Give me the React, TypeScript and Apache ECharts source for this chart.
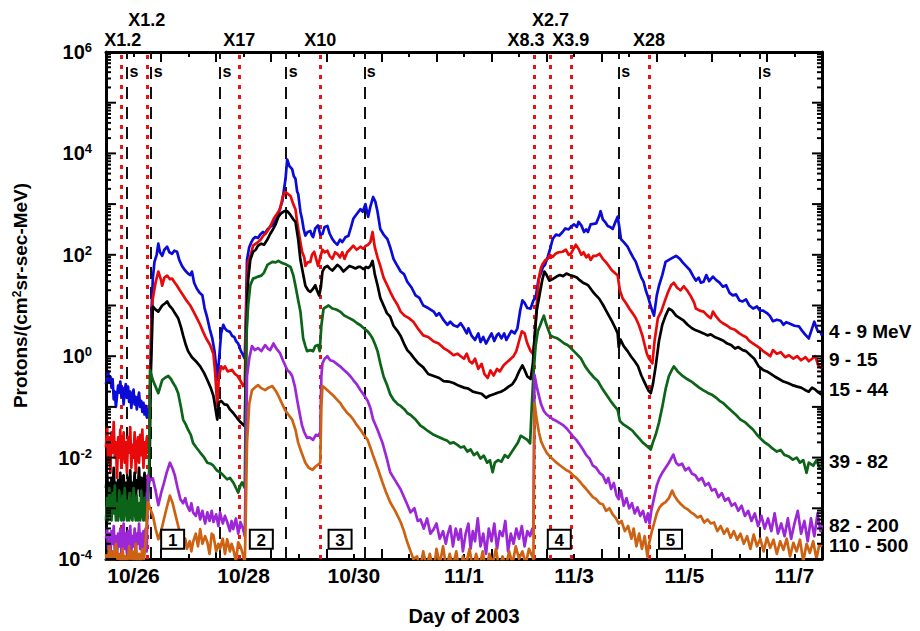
import React, { useEffect, useRef } from 'react';
import * as echarts from 'echarts';

const FONT = "'Liberation Sans', Arial, Helvetica, sans-serif";

// x values are days of October 2003 (26 = Oct 26 00:00 UT, 32 = Nov 1 00:00 UT)
const dayTickDays = [26, 28, 30, 32, 34, 36, 38];
const dayTickLabels = ['10/26', '10/28', '10/30', '11/1', '11/3', '11/5', '11/7'];

const flareDays = [26.267, 26.74, 28.424, 29.89, 33.77, 34.073, 34.436, 35.86];
const flareNames = ['X1.2', 'X1.2', 'X17', 'X10', 'X8.3', 'X2.7', 'X3.9', 'X28'];
const shockDays = [26.376, 26.818, 28.073, 29.267, 30.69, 35.31, 37.873];
const eventDays = [27.21, 28.82, 30.25, 34.23, 36.25];
const eventNames = ['1', '2', '3', '4', '5'];
const channelNames = ['4 - 9 MeV', '9 - 15', '15 - 44', '39 - 82', '82 - 200', '110 - 500'];

// [day, log10(protons/(cm^2 sr s MeV))]
const ch4to9: number[][] = [
  [26.00,-0.55],[26.02,-0.38],[26.04,-0.30],[26.06,-0.52],[26.08,-0.40],[26.10,-0.62],[26.12,-0.45],[26.14,-0.85],[26.16,-0.70],[26.18,-1.00],[26.20,-0.78],[26.22,-0.58],[26.24,-0.72],[26.26,-0.50],[26.28,-0.80],[26.30,-0.62],[26.32,-0.95],[26.34,-0.68],[26.36,-0.55],[26.38,-0.82],[26.40,-0.60],[26.42,-0.90],[26.44,-0.70],[26.46,-1.02],[26.48,-0.78],[26.50,-0.66],[26.52,-0.95],[26.54,-0.80],[26.56,-1.05],[26.58,-0.85],[26.60,-0.72],[26.62,-1.00],[26.64,-0.88],[26.66,-1.10],[26.68,-0.92],[26.70,-1.15],[26.72,-0.98],[26.74,-1.20],[26.76,-1.05],[26.79,-1.12],
  [26.81,-0.20],[26.83,1.00],[26.85,1.53],[26.88,1.86],[26.92,2.00],[26.95,2.22],[26.98,2.05],[27.02,1.98],[27.06,2.10],[27.11,2.16],[27.15,2.05],[27.20,2.02],[27.24,2.08],[27.29,2.06],[27.33,1.90],[27.38,1.78],[27.43,1.70],[27.49,1.63],[27.53,1.60],[27.56,1.67],[27.60,1.45],[27.65,1.33],[27.70,1.25],[27.75,1.20],[27.79,0.95],[27.84,0.75],[27.88,0.55],[27.93,0.35],[27.97,0.10],[28.00,-0.20],[28.02,-0.47],[28.05,-0.10],[28.09,0.45],[28.13,0.62],[28.16,0.55],[28.20,0.50],[28.25,0.48],[28.29,0.40],[28.33,0.38],[28.36,0.30],[28.40,0.25],[28.45,0.10],[28.49,0.02],[28.52,-0.05],
  [28.54,0.80],[28.56,1.90],[28.60,2.15],[28.64,2.25],[28.67,2.31],[28.71,2.35],[28.76,2.33],[28.80,2.40],[28.85,2.45],[28.89,2.42],[28.93,2.50],[28.98,2.55],[29.02,2.58],[29.07,2.65],[29.11,2.75],[29.16,2.92],[29.20,3.05],[29.22,3.20],[29.26,3.50],[29.29,3.88],[29.33,3.75],[29.38,3.69],[29.41,3.55],[29.44,3.50],[29.47,3.25],[29.49,3.20],[29.53,2.85],[29.56,2.70],[29.59,2.50],[29.62,2.38],[29.66,2.45],[29.71,2.47],[29.74,2.38],[29.76,2.35],[29.80,2.52],[29.85,2.58],[29.89,2.40],[29.93,2.41],[29.97,2.55],[30.02,2.57],[30.06,2.42],[30.11,2.31],[30.15,2.25],[30.20,2.20],[30.25,2.30],[30.29,2.25],[30.35,2.35],[30.40,2.37],[30.45,2.55],[30.49,2.71],[30.55,2.80],[30.62,2.90],[30.66,2.85],[30.71,3.00],[30.76,2.75],[30.80,2.95],[30.85,3.14],[30.89,3.05],[30.93,2.85],[30.98,2.51],[31.04,2.40],[31.11,2.31],[31.16,2.15],[31.22,1.92],[31.28,1.80],[31.35,1.67],[31.41,1.62],[31.47,1.47],[31.55,1.35],[31.62,1.20],[31.69,1.15],[31.76,1.00],[31.85,0.95],[31.95,0.88],[32.00,0.80],[32.05,0.85],[32.13,0.71],[32.20,0.62],[32.25,0.68],[32.31,0.61],[32.38,0.58],[32.44,0.65],[32.50,0.55],[32.55,0.45],[32.58,0.55],[32.64,0.40],[32.70,0.32],[32.76,0.45],[32.80,0.28],[32.85,0.38],[32.90,0.25],[32.95,0.35],[33.00,0.45],[33.05,0.30],[33.10,0.42],[33.13,0.45],[33.18,0.35],[33.23,0.45],[33.27,0.32],[33.31,0.40],[33.36,0.50],[33.42,0.45],[33.47,0.55],[33.52,0.90],[33.56,1.10],[33.60,1.05],[33.65,0.95],[33.71,0.94],[33.76,1.10],[33.80,1.15],[33.85,1.50],[33.90,1.65],[33.93,1.75],[33.97,1.80],[34.02,1.96],[34.06,2.10],[34.11,2.31],[34.17,2.40],[34.23,2.38],[34.29,2.45],[34.34,2.52],[34.40,2.50],[34.44,2.55],[34.50,2.60],[34.55,2.55],[34.58,2.65],[34.63,2.58],[34.68,2.45],[34.72,2.50],[34.75,2.45],[34.80,2.60],[34.85,2.61],[34.90,2.62],[34.95,2.75],[34.98,2.86],[35.02,2.70],[35.06,2.65],[35.11,2.57],[35.15,2.55],[35.20,2.51],[35.25,2.65],[35.29,2.75],[35.32,2.55],[35.35,2.31],[35.40,2.25],[35.47,2.16],[35.52,2.05],[35.57,1.95],[35.62,1.86],[35.67,1.70],[35.72,1.55],[35.76,1.47],[35.80,1.30],[35.85,1.14],[35.90,0.95],[35.95,0.80],[36.00,1.20],[36.04,1.39],[36.10,1.60],[36.16,1.86],[36.22,1.90],[36.30,1.95],[36.35,1.98],[36.42,1.92],[36.47,1.85],[36.53,1.78],[36.60,1.70],[36.66,1.58],[36.71,1.49],[36.76,1.55],[36.80,1.45],[36.85,1.47],[36.90,1.60],[36.95,1.48],[37.02,1.57],[37.08,1.50],[37.14,1.45],[37.20,1.37],[37.26,1.40],[37.32,1.25],[37.38,1.20],[37.44,1.22],[37.50,1.10],[37.56,1.08],[37.62,1.12],[37.68,1.00],[37.75,0.94],[37.82,0.98],[37.87,0.90],[37.93,0.90],[38.00,0.85],[38.05,0.80],[38.11,0.69],[38.18,0.72],[38.25,0.70],[38.30,0.62],[38.35,0.67],[38.42,0.64],[38.50,0.60],[38.58,0.59],[38.64,0.50],[38.70,0.42],[38.76,0.35],[38.82,0.55],[38.86,0.68],[38.92,0.50],[38.97,0.48],[39.00,0.41],
];

const ch9to15: number[][] = [
  [26.00,-1.80],[26.02,-1.40],[26.04,-2.10],[26.06,-1.60],[26.08,-2.30],[26.10,-1.50],[26.12,-1.90],[26.14,-1.30],[26.16,-2.00],[26.18,-1.70],[26.20,-2.40],[26.22,-1.60],[26.24,-2.00],[26.26,-1.45],[26.28,-2.20],[26.30,-1.80],[26.32,-1.50],[26.34,-2.10],[26.36,-1.70],[26.38,-2.30],[26.40,-1.60],[26.42,-1.90],[26.44,-1.40],[26.46,-2.20],[26.48,-1.75],[26.50,-2.00],[26.52,-1.50],[26.54,-2.30],[26.56,-1.80],[26.58,-1.60],[26.60,-2.10],[26.62,-1.55],[26.64,-1.95],[26.66,-1.45],[26.68,-2.20],[26.70,-1.70],[26.72,-2.00],[26.74,-1.60],[26.76,-1.90],[26.79,-1.50],
  [26.82,0.50],[26.85,1.14],[26.90,1.45],[26.95,1.67],[27.00,1.50],[27.02,1.39],[27.06,1.55],[27.11,1.59],[27.16,1.52],[27.20,1.53],[27.25,1.45],[27.29,1.39],[27.34,1.30],[27.40,1.20],[27.46,1.10],[27.53,1.00],[27.59,0.88],[27.65,0.75],[27.71,0.62],[27.76,0.49],[27.82,0.35],[27.89,0.22],[27.95,0.05],[27.98,-0.30],[28.02,-0.98],[28.05,-0.40],[28.09,-0.20],[28.13,-0.25],[28.16,-0.20],[28.21,-0.30],[28.29,-0.27],[28.34,-0.35],[28.39,-0.39],[28.45,-0.50],[28.49,-0.59],[28.52,-0.55],
  [28.55,1.00],[28.58,1.86],[28.63,2.00],[28.67,2.18],[28.72,2.22],[28.76,2.25],[28.81,2.30],[28.85,2.37],[28.90,2.42],[28.95,2.50],[29.00,2.60],[29.05,2.72],[29.10,2.80],[29.16,2.90],[29.21,3.15],[29.25,3.24],[29.30,3.20],[29.35,3.16],[29.40,3.00],[29.44,2.90],[29.47,2.65],[29.49,2.51],[29.53,2.25],[29.56,2.06],[29.60,1.95],[29.62,1.78],[29.66,1.85],[29.71,1.86],[29.74,2.00],[29.78,2.06],[29.82,1.90],[29.85,1.78],[29.89,1.95],[29.93,2.10],[29.97,2.05],[30.02,2.08],[30.06,1.98],[30.11,1.92],[30.16,2.05],[30.20,2.02],[30.25,1.95],[30.29,2.05],[30.33,1.92],[30.38,2.05],[30.44,2.12],[30.49,2.18],[30.55,2.10],[30.62,2.16],[30.67,2.12],[30.72,2.18],[30.76,2.20],[30.80,2.25],[30.84,2.45],[30.88,2.15],[30.93,1.95],[30.98,1.78],[31.04,1.55],[31.11,1.39],[31.17,1.25],[31.22,1.14],[31.29,1.02],[31.35,0.88],[31.42,0.80],[31.50,0.75],[31.58,0.68],[31.66,0.55],[31.76,0.41],[31.85,0.38],[31.95,0.29],[32.04,0.25],[32.13,0.16],[32.22,0.10],[32.31,0.02],[32.38,0.05],[32.44,0.00],[32.50,-0.05],[32.55,0.05],[32.60,-0.10],[32.65,-0.14],[32.70,-0.05],[32.76,-0.25],[32.82,-0.15],[32.87,-0.35],[32.93,-0.43],[32.98,-0.28],[33.04,-0.38],[33.10,-0.25],[33.15,-0.30],[33.22,-0.18],[33.28,-0.12],[33.35,-0.05],[33.40,0.00],[33.45,0.10],[33.50,0.30],[33.55,0.49],[33.60,0.45],[33.65,0.25],[33.71,0.10],[33.75,0.05],[33.78,0.30],[33.82,1.00],[33.86,1.55],[33.90,1.75],[33.93,1.82],[33.98,1.90],[34.02,1.92],[34.06,2.00],[34.11,1.96],[34.16,2.02],[34.22,2.05],[34.29,2.06],[34.35,2.10],[34.40,2.00],[34.44,2.02],[34.49,2.12],[34.53,2.20],[34.58,2.12],[34.63,2.00],[34.67,2.05],[34.72,1.95],[34.76,2.00],[34.80,1.90],[34.85,1.98],[34.90,1.98],[34.96,2.02],[35.02,1.92],[35.08,1.85],[35.13,1.78],[35.18,1.70],[35.23,1.65],[35.29,1.59],[35.33,1.30],[35.38,1.14],[35.44,1.05],[35.50,0.94],[35.56,0.85],[35.62,0.75],[35.68,0.60],[35.74,0.40],[35.78,0.22],[35.82,0.05],[35.86,-0.05],[35.92,-0.14],[35.96,0.30],[36.02,0.75],[36.08,0.88],[36.15,1.10],[36.20,1.25],[36.26,1.40],[36.31,1.45],[36.37,1.35],[36.43,1.30],[36.49,1.38],[36.55,1.30],[36.62,1.18],[36.68,1.05],[36.71,0.94],[36.78,0.90],[36.85,0.88],[36.92,0.80],[36.98,0.75],[37.02,0.88],[37.08,0.78],[37.14,0.70],[37.20,0.65],[37.28,0.60],[37.34,0.55],[37.42,0.52],[37.50,0.45],[37.56,0.41],[37.62,0.38],[37.68,0.30],[37.75,0.25],[37.82,0.20],[37.88,0.15],[37.93,0.10],[38.00,0.05],[38.06,0.00],[38.11,0.12],[38.18,0.05],[38.25,0.08],[38.33,-0.02],[38.40,0.02],[38.48,-0.05],[38.55,0.00],[38.62,-0.08],[38.70,-0.02],[38.76,-0.10],[38.82,-0.05],[38.88,0.00],[38.93,-0.18],[39.00,-0.24],
];

const ch15to44: number[][] = [
  [26.00,-2.60],[26.02,-2.30],[26.04,-2.90],[26.06,-2.50],[26.08,-3.00],[26.10,-2.40],[26.12,-2.70],[26.14,-2.20],[26.16,-2.80],[26.18,-2.50],[26.20,-3.05],[26.22,-2.45],[26.24,-2.75],[26.26,-2.30],[26.28,-2.90],[26.30,-2.55],[26.32,-2.35],[26.34,-2.85],[26.36,-2.50],[26.38,-3.00],[26.40,-2.40],[26.42,-2.65],[26.44,-2.25],[26.46,-2.95],[26.48,-2.50],[26.50,-2.70],[26.52,-2.30],[26.54,-2.85],[26.56,-2.45],[26.58,-2.60],[26.60,-2.20],[26.62,-2.75],[26.64,-2.40],[26.66,-2.95],[26.68,-2.50],[26.70,-2.30],[26.72,-2.80],[26.74,-2.45],[26.76,-2.65],[26.79,-2.40],
  [26.81,-0.50],[26.85,0.98],[26.90,0.92],[26.95,0.88],[27.02,1.00],[27.07,1.04],[27.11,1.08],[27.15,1.00],[27.20,0.94],[27.25,0.85],[27.31,0.75],[27.36,0.58],[27.40,0.41],[27.45,0.22],[27.49,0.10],[27.56,-0.02],[27.65,-0.12],[27.71,-0.20],[27.78,-0.33],[27.84,-0.47],[27.90,-0.62],[27.95,-0.78],[28.02,-1.25],[28.05,-0.92],[28.09,-0.88],[28.15,-0.95],[28.20,-0.96],[28.25,-1.05],[28.31,-1.12],[28.38,-1.22],[28.44,-1.30],[28.49,-1.35],[28.52,-1.38],
  [28.55,0.50],[28.58,1.50],[28.62,1.90],[28.67,2.06],[28.72,2.10],[28.76,2.18],[28.82,2.22],[28.87,2.20],[28.93,2.30],[28.98,2.41],[29.03,2.50],[29.08,2.60],[29.13,2.75],[29.18,2.82],[29.24,2.86],[29.29,2.86],[29.34,2.80],[29.40,2.70],[29.44,2.65],[29.49,2.30],[29.53,1.90],[29.57,1.67],[29.62,1.39],[29.67,1.30],[29.71,1.27],[29.76,1.33],[29.80,1.40],[29.83,1.30],[29.87,1.20],[29.90,1.35],[29.93,1.67],[29.97,1.75],[30.02,1.78],[30.06,1.73],[30.11,1.69],[30.16,1.75],[30.20,1.80],[30.25,1.76],[30.31,1.67],[30.36,1.72],[30.42,1.78],[30.47,1.76],[30.53,1.73],[30.58,1.76],[30.62,1.76],[30.67,1.72],[30.72,1.76],[30.76,1.74],[30.80,1.78],[30.84,1.88],[30.88,1.62],[30.93,1.40],[30.98,1.15],[31.04,1.00],[31.10,0.85],[31.16,0.78],[31.22,0.60],[31.29,0.50],[31.35,0.40],[31.41,0.25],[31.47,0.12],[31.53,0.05],[31.60,-0.05],[31.67,-0.14],[31.76,-0.22],[31.85,-0.35],[31.95,-0.39],[32.05,-0.43],[32.13,-0.49],[32.22,-0.50],[32.31,-0.53],[32.40,-0.58],[32.50,-0.62],[32.58,-0.64],[32.66,-0.70],[32.74,-0.72],[32.82,-0.74],[32.90,-0.82],[32.96,-0.78],[33.04,-0.75],[33.11,-0.72],[33.17,-0.70],[33.24,-0.66],[33.31,-0.60],[33.38,-0.55],[33.44,-0.45],[33.50,-0.30],[33.56,-0.18],[33.60,-0.27],[33.65,-0.40],[33.71,-0.45],[33.75,-0.15],[33.78,0.35],[33.82,0.90],[33.86,1.14],[33.92,1.50],[33.96,1.67],[34.00,1.60],[34.05,1.49],[34.11,1.52],[34.18,1.57],[34.24,1.60],[34.30,1.58],[34.36,1.63],[34.42,1.60],[34.48,1.58],[34.55,1.55],[34.60,1.50],[34.66,1.45],[34.72,1.42],[34.76,1.39],[34.82,1.30],[34.88,1.22],[34.95,1.14],[35.02,1.02],[35.08,0.90],[35.13,0.80],[35.19,0.68],[35.25,0.55],[35.29,0.45],[35.31,0.18],[35.34,0.33],[35.40,0.20],[35.47,0.10],[35.53,0.00],[35.60,-0.10],[35.66,-0.20],[35.72,-0.38],[35.78,-0.52],[35.85,-0.68],[35.89,-0.73],[35.93,-0.55],[35.98,-0.20],[36.04,0.30],[36.10,0.62],[36.16,0.80],[36.22,0.94],[36.28,0.90],[36.35,0.80],[36.42,0.75],[36.49,0.70],[36.56,0.62],[36.64,0.55],[36.71,0.51],[36.78,0.48],[36.85,0.45],[36.92,0.41],[36.98,0.43],[37.05,0.38],[37.12,0.35],[37.20,0.31],[37.28,0.25],[37.35,0.22],[37.42,0.15],[37.48,0.18],[37.56,0.12],[37.62,0.10],[37.70,0.02],[37.77,-0.05],[37.85,-0.20],[37.93,-0.27],[38.00,-0.30],[38.07,-0.35],[38.14,-0.40],[38.22,-0.45],[38.30,-0.50],[38.38,-0.53],[38.46,-0.57],[38.55,-0.60],[38.62,-0.62],[38.70,-0.67],[38.76,-0.70],[38.82,-0.62],[38.88,-0.66],[38.94,-0.72],[39.00,-0.76],
];

const ch39to82: number[][] = [
  [26.00,-3.24],[26.02,-2.80],[26.04,-3.24],[26.06,-2.60],[26.08,-3.00],[26.10,-3.24],[26.12,-2.70],[26.14,-3.10],[26.16,-2.55],[26.18,-3.24],[26.20,-2.90],[26.22,-3.24],[26.24,-2.65],[26.26,-3.05],[26.28,-3.24],[26.30,-2.75],[26.32,-3.24],[26.34,-2.60],[26.36,-3.00],[26.38,-3.24],[26.40,-2.85],[26.42,-3.24],[26.44,-2.70],[26.46,-3.15],[26.48,-3.24],[26.50,-2.60],[26.52,-3.00],[26.54,-3.24],[26.56,-2.75],[26.58,-3.24],[26.60,-2.90],[26.62,-3.24],[26.64,-2.65],[26.66,-3.10],[26.68,-3.24],[26.70,-2.80],[26.72,-3.24],[26.74,-2.70],[26.76,-3.00],[26.78,-2.50],
  [26.80,-0.27],[26.85,-0.47],[26.90,-0.60],[26.95,-0.73],[27.02,-0.47],[27.08,-0.42],[27.13,-0.39],[27.18,-0.45],[27.22,-0.53],[27.27,-0.62],[27.31,-0.73],[27.36,-1.00],[27.40,-1.25],[27.45,-1.35],[27.49,-1.45],[27.54,-1.55],[27.58,-1.71],[27.64,-1.80],[27.71,-1.90],[27.77,-1.98],[27.84,-2.10],[27.90,-2.12],[27.95,-2.16],[28.01,-2.25],[28.07,-2.29],[28.13,-2.35],[28.20,-2.43],[28.25,-2.40],[28.31,-2.49],[28.36,-2.60],[28.40,-2.69],[28.44,-2.55],[28.47,-2.49],[28.52,-2.60],
  [28.55,0.40],[28.58,1.00],[28.62,1.40],[28.67,1.53],[28.72,1.55],[28.76,1.57],[28.82,1.59],[28.87,1.65],[28.93,1.80],[29.02,1.86],[29.08,1.85],[29.13,1.88],[29.19,1.84],[29.25,1.82],[29.30,1.79],[29.35,1.76],[29.40,1.60],[29.44,1.39],[29.49,1.10],[29.53,0.88],[29.58,0.35],[29.62,0.20],[29.65,0.10],[29.71,0.12],[29.76,0.10],[29.80,0.20],[29.85,0.22],[29.88,0.10],[29.91,0.60],[29.95,0.94],[30.04,1.00],[30.11,0.94],[30.18,0.92],[30.25,0.88],[30.33,0.80],[30.40,0.76],[30.49,0.71],[30.56,0.65],[30.62,0.61],[30.68,0.55],[30.75,0.49],[30.80,0.42],[30.84,0.35],[30.89,0.22],[30.93,0.10],[30.98,-0.14],[31.04,-0.40],[31.11,-0.59],[31.16,-0.75],[31.22,-0.86],[31.30,-0.95],[31.35,-0.98],[31.42,-1.05],[31.47,-1.12],[31.53,-1.16],[31.62,-1.25],[31.71,-1.37],[31.78,-1.42],[31.85,-1.48],[31.95,-1.55],[32.05,-1.60],[32.13,-1.64],[32.20,-1.67],[32.25,-1.72],[32.31,-1.70],[32.38,-1.75],[32.44,-1.80],[32.50,-1.78],[32.56,-1.88],[32.62,-1.84],[32.68,-1.95],[32.74,-1.90],[32.80,-2.02],[32.86,-1.96],[32.92,-2.10],[32.97,-2.05],[33.02,-2.29],[33.06,-2.10],[33.12,-2.05],[33.18,-2.08],[33.24,-1.95],[33.30,-2.00],[33.36,-1.90],[33.42,-1.80],[33.48,-1.70],[33.53,-1.57],[33.58,-1.60],[33.65,-1.65],[33.70,-1.72],[33.73,-1.00],[33.76,-0.37],[33.80,0.20],[33.84,0.49],[33.88,0.60],[33.92,0.72],[33.95,0.80],[33.98,0.68],[34.02,0.55],[34.07,0.41],[34.12,0.38],[34.18,0.36],[34.25,0.31],[34.32,0.25],[34.38,0.22],[34.44,0.16],[34.53,0.06],[34.62,-0.04],[34.70,-0.20],[34.78,-0.32],[34.86,-0.42],[34.93,-0.49],[35.00,-0.62],[35.08,-0.75],[35.16,-0.88],[35.23,-0.98],[35.29,-1.06],[35.33,-1.28],[35.40,-1.35],[35.47,-1.40],[35.56,-1.47],[35.62,-1.55],[35.68,-1.62],[35.75,-1.71],[35.80,-1.75],[35.85,-1.80],[35.89,-1.84],[35.93,-1.70],[35.98,-1.55],[36.04,-1.31],[36.10,-1.00],[36.16,-0.65],[36.22,-0.39],[36.27,-0.28],[36.31,-0.20],[36.38,-0.30],[36.47,-0.39],[36.55,-0.45],[36.63,-0.50],[36.70,-0.56],[36.77,-0.62],[36.84,-0.67],[36.92,-0.72],[37.00,-0.76],[37.08,-0.82],[37.14,-0.88],[37.20,-0.92],[37.28,-1.00],[37.36,-1.08],[37.44,-1.16],[37.52,-1.25],[37.60,-1.30],[37.67,-1.37],[37.75,-1.45],[37.82,-1.55],[37.88,-1.62],[37.96,-1.70],[38.04,-1.76],[38.10,-1.82],[38.18,-1.88],[38.25,-1.85],[38.32,-1.95],[38.40,-1.98],[38.47,-2.04],[38.54,-2.00],[38.60,-2.10],[38.66,-2.05],[38.72,-2.30],[38.76,-2.10],[38.84,-2.16],[38.90,-2.05],[38.95,-2.20],[39.00,-2.22],
];

const ch82to200: number[][] = [
  [26.00,-3.60],[26.02,-3.40],[26.04,-3.80],[26.06,-3.50],[26.08,-3.90],[26.10,-3.45],[26.12,-3.70],[26.14,-3.35],[26.16,-3.85],[26.18,-3.55],[26.20,-3.95],[26.22,-3.50],[26.24,-3.75],[26.26,-3.40],[26.28,-3.90],[26.30,-3.60],[26.32,-3.30],[26.34,-3.80],[26.36,-3.50],[26.38,-3.90],[26.40,-3.45],[26.42,-3.70],[26.44,-3.35],[26.46,-3.85],[26.48,-3.55],[26.50,-3.75],[26.52,-3.40],[26.54,-3.90],[26.56,-3.50],[26.58,-3.70],[26.60,-3.30],[26.62,-3.80],[26.64,-3.50],[26.66,-3.95],[26.68,-3.45],[26.70,-3.70],[26.72,-3.40],[26.74,-3.85],
  [26.76,-2.35],[26.80,-2.45],[26.85,-2.41],[26.90,-2.65],[26.95,-2.94],[27.00,-2.70],[27.04,-2.55],[27.10,-2.30],[27.16,-2.10],[27.21,-2.22],[27.25,-2.35],[27.30,-2.60],[27.35,-2.82],[27.40,-2.90],[27.44,-2.80],[27.47,-2.94],[27.52,-3.05],[27.55,-2.90],[27.58,-3.08],[27.63,-3.15],[27.67,-2.98],[27.71,-3.22],[27.75,-3.05],[27.80,-3.30],[27.84,-3.08],[27.88,-3.25],[27.92,-3.05],[27.95,-3.27],[28.00,-3.12],[28.04,-3.35],[28.07,-3.08],[28.12,-3.30],[28.16,-3.15],[28.20,-3.27],[28.25,-3.45],[28.28,-3.25],[28.31,-3.41],[28.36,-3.20],[28.40,-3.50],[28.44,-3.27],[28.49,-3.41],[28.52,-3.55],
  [28.54,-2.00],[28.56,-0.39],[28.60,-0.05],[28.65,0.20],[28.70,0.12],[28.76,0.16],[28.82,0.10],[28.89,0.22],[28.94,0.15],[28.98,0.12],[29.04,0.25],[29.10,0.14],[29.16,0.06],[29.22,-0.10],[29.29,-0.27],[29.34,-0.32],[29.38,-0.39],[29.43,-0.60],[29.47,-0.86],[29.52,-1.15],[29.56,-1.37],[29.60,-1.50],[29.65,-1.61],[29.70,-1.60],[29.76,-1.65],[29.81,-1.55],[29.85,-1.57],[29.89,-1.50],[29.91,-0.40],[29.93,-0.14],[29.97,-0.05],[30.02,0.00],[30.07,-0.08],[30.13,-0.10],[30.19,-0.15],[30.25,-0.20],[30.31,-0.26],[30.38,-0.33],[30.44,-0.40],[30.49,-0.47],[30.55,-0.55],[30.62,-0.67],[30.68,-0.76],[30.75,-0.88],[30.80,-1.02],[30.85,-1.25],[30.93,-1.45],[31.02,-1.71],[31.09,-1.98],[31.16,-2.29],[31.25,-2.45],[31.35,-2.63],[31.44,-2.85],[31.53,-3.08],[31.60,-3.00],[31.66,-3.25],[31.71,-3.22],[31.77,-3.40],[31.83,-3.20],[31.89,-3.50],[31.95,-3.41],[32.00,-3.30],[32.06,-3.60],[32.12,-3.45],[32.17,-3.70],[32.20,-3.53],[32.25,-3.35],[32.30,-3.75],[32.35,-3.40],[32.40,-3.62],[32.44,-3.41],[32.48,-3.85],[32.53,-3.50],[32.58,-3.30],[32.62,-3.80],[32.66,-3.45],[32.70,-3.65],[32.75,-3.20],[32.80,-3.75],[32.85,-3.50],[32.90,-3.90],[32.95,-3.40],[33.00,-3.65],[33.05,-3.30],[33.10,-3.80],[33.15,-3.45],[33.20,-3.55],[33.25,-3.25],[33.30,-3.85],[33.35,-3.50],[33.40,-3.70],[33.45,-3.40],[33.50,-3.60],[33.55,-3.35],[33.60,-3.75],[33.65,-3.45],[33.70,-3.55],[33.74,-3.40],[33.76,-3.50],
  [33.78,-0.37],[33.82,-0.60],[33.86,-0.78],[33.90,-0.95],[33.95,-1.08],[34.00,-1.15],[34.06,-1.20],[34.12,-1.25],[34.18,-1.28],[34.24,-1.32],[34.30,-1.36],[34.36,-1.42],[34.42,-1.50],[34.48,-1.58],[34.54,-1.65],[34.60,-1.74],[34.66,-1.84],[34.72,-1.95],[34.78,-2.02],[34.84,-2.16],[34.90,-2.20],[34.96,-2.30],[35.02,-2.35],[35.08,-2.50],[35.12,-2.40],[35.17,-2.62],[35.22,-2.50],[35.27,-2.75],[35.31,-2.82],[35.35,-2.65],[35.40,-2.95],[35.45,-2.80],[35.50,-3.00],[35.55,-2.90],[35.60,-3.10],[35.65,-2.98],[35.70,-3.15],[35.75,-3.05],[35.80,-3.27],[35.84,-3.10],[35.87,-3.30],[35.90,-3.05],[35.95,-2.80],[36.00,-2.55],[36.05,-2.40],[36.10,-2.30],[36.16,-2.20],[36.22,-2.10],[36.27,-2.00],[36.30,-1.94],[36.35,-2.10],[36.40,-2.15],[36.46,-2.12],[36.52,-2.25],[36.58,-2.20],[36.64,-2.32],[36.70,-2.35],[36.76,-2.45],[36.82,-2.40],[36.88,-2.55],[36.94,-2.50],[37.00,-2.65],[37.06,-2.62],[37.12,-2.78],[37.18,-2.70],[37.24,-2.85],[37.30,-2.80],[37.36,-2.95],[37.42,-2.90],[37.48,-3.05],[37.54,-2.95],[37.60,-3.15],[37.66,-3.05],[37.72,-3.25],[37.78,-3.10],[37.84,-3.35],[37.90,-3.15],[37.96,-3.40],[38.02,-3.20],[38.08,-3.45],[38.14,-3.10],[38.20,-3.50],[38.26,-3.30],[38.32,-3.55],[38.38,-3.20],[38.44,-3.60],[38.50,-3.30],[38.56,-3.05],[38.62,-3.50],[38.68,-3.25],[38.74,-3.65],[38.80,-3.20],[38.86,-3.55],[38.92,-3.10],[38.97,-3.45],[39.00,-3.33],
];

const ch110to500: number[][] = [
  [26.00,-3.90],[26.03,-4.10],[26.06,-3.75],[26.09,-4.05],[26.12,-3.85],[26.15,-4.10],[26.18,-3.70],[26.21,-4.00],[26.24,-3.90],[26.27,-4.10],[26.30,-3.80],[26.33,-4.05],[26.36,-3.95],[26.39,-4.10],[26.42,-3.75],[26.45,-4.00],[26.48,-3.85],[26.51,-4.10],[26.54,-3.70],[26.57,-4.05],[26.60,-3.90],[26.63,-4.10],[26.66,-3.80],[26.69,-4.00],[26.72,-3.65],
  [26.76,-2.88],[26.80,-3.00],[26.85,-3.14],[26.90,-3.40],[26.95,-3.61],[27.00,-3.45],[27.04,-3.27],[27.10,-3.00],[27.16,-2.75],[27.21,-2.90],[27.25,-3.08],[27.30,-3.30],[27.35,-3.53],[27.40,-3.70],[27.44,-3.60],[27.47,-3.80],[27.52,-3.65],[27.55,-3.85],[27.58,-3.67],[27.63,-3.50],[27.67,-3.75],[27.71,-3.41],[27.75,-3.70],[27.80,-3.55],[27.84,-3.67],[27.88,-3.90],[27.92,-3.50],[27.95,-3.53],[28.00,-3.85],[28.04,-3.70],[28.07,-3.80],[28.12,-3.60],[28.16,-3.90],[28.20,-3.61],[28.25,-3.85],[28.28,-3.70],[28.31,-3.80],[28.36,-4.05],[28.40,-3.67],[28.44,-3.75],[28.49,-3.92],[28.52,-4.10],
  [28.54,-3.00],[28.56,-1.71],[28.60,-0.95],[28.65,-0.67],[28.70,-0.62],[28.76,-0.57],[28.82,-0.63],[28.89,-0.67],[28.95,-0.62],[29.02,-0.59],[29.08,-0.68],[29.13,-0.78],[29.19,-0.92],[29.25,-1.06],[29.31,-1.15],[29.38,-1.25],[29.44,-1.45],[29.49,-1.71],[29.55,-1.90],[29.62,-2.10],[29.68,-2.20],[29.75,-2.24],[29.80,-2.18],[29.85,-2.14],[29.89,-2.10],[29.91,-1.00],[29.93,-0.59],[29.97,-0.62],[30.02,-0.67],[30.07,-0.72],[30.13,-0.78],[30.19,-0.85],[30.25,-0.92],[30.31,-1.02],[30.38,-1.12],[30.44,-1.18],[30.49,-1.25],[30.55,-1.35],[30.62,-1.45],[30.68,-1.55],[30.75,-1.65],[30.80,-1.80],[30.85,-1.96],[30.93,-2.20],[31.02,-2.49],[31.09,-2.70],[31.16,-2.88],[31.25,-3.05],[31.35,-3.27],[31.41,-3.45],[31.47,-3.67],[31.53,-3.85],[31.58,-4.00],
  [31.65,-3.95],[31.70,-4.20],[31.76,-3.85],[31.82,-4.15],[31.88,-3.90],[31.95,-4.25],[32.00,-3.80],[32.06,-4.10],[32.12,-3.75],[32.18,-4.20],[32.24,-3.90],[32.30,-4.15],[32.36,-3.85],[32.42,-4.30],[32.48,-3.95],[32.54,-4.10],[32.60,-3.80],[32.66,-4.20],[32.72,-3.90],[32.78,-4.15],[32.84,-3.85],[32.90,-4.25],[32.96,-3.90],[33.02,-4.10],[33.08,-3.80],[33.14,-4.20],[33.20,-3.95],[33.26,-4.15],[33.32,-3.85],[33.38,-4.10],[33.44,-3.75],[33.50,-4.00],[33.56,-3.85],[33.62,-4.10],[33.68,-3.80],[33.72,-3.90],[33.76,-4.00],
  [33.78,-0.92],[33.82,-1.25],[33.86,-1.50],[33.90,-1.68],[33.95,-1.80],[34.00,-1.90],[34.06,-1.98],[34.12,-2.04],[34.18,-2.10],[34.24,-2.15],[34.30,-2.20],[34.36,-2.25],[34.42,-2.28],[34.48,-2.35],[34.54,-2.40],[34.60,-2.47],[34.66,-2.55],[34.72,-2.62],[34.78,-2.70],[34.84,-2.78],[34.90,-2.82],[34.96,-2.90],[35.02,-2.92],[35.08,-3.05],[35.14,-3.00],[35.20,-3.12],[35.26,-3.20],[35.31,-3.30],[35.36,-3.25],[35.42,-3.45],[35.48,-3.35],[35.54,-3.60],[35.58,-3.40],[35.63,-3.75],[35.68,-3.50],[35.73,-3.80],[35.78,-3.55],[35.83,-3.95],[35.86,-3.70],[35.90,-3.50],[35.95,-3.30],[36.00,-3.10],[36.05,-2.98],[36.10,-2.92],[36.16,-2.88],[36.22,-2.80],[36.28,-2.65],[36.32,-2.75],[36.38,-2.85],[36.44,-2.92],[36.50,-2.98],[36.56,-3.02],[36.62,-3.08],[36.68,-3.12],[36.74,-3.18],[36.80,-3.15],[36.86,-3.28],[36.92,-3.22],[36.98,-3.30],[37.04,-3.28],[37.10,-3.45],[37.16,-3.35],[37.22,-3.50],[37.28,-3.40],[37.34,-3.58],[37.40,-3.45],[37.46,-3.62],[37.52,-3.50],[37.58,-3.70],[37.64,-3.55],[37.70,-3.80],[37.76,-3.52],[37.82,-3.75],[37.88,-3.60],[37.94,-3.85],[38.00,-3.58],[38.06,-3.78],[38.12,-3.62],[38.18,-3.90],[38.24,-3.65],[38.30,-3.82],[38.36,-3.60],[38.42,-3.95],[38.48,-3.68],[38.54,-3.85],[38.60,-3.62],[38.66,-4.05],[38.72,-3.70],[38.78,-3.88],[38.84,-3.65],[38.90,-4.00],[38.95,-3.72],[39.00,-3.75],
];

const channels = [ch4to9, ch9to15, ch15to44, ch39to82, ch82to200, ch110to500];
const channelColors = ['#0b0bd8', '#e80a0a', '#000000', '#0b6418', '#9b27d6', '#cc6212'];

// layout of annotation labels (not data)
const flareRaised = [false, true, false, false, false, true, false, false];
const flareShiftPx = [2, 0, 0, 0, -8, 0, 0, 0];
const endLabelDy = [-4, -9, -5, -7, 0, -1];

const X_MIN = 26;
const X_MAX = 39;
const Y_MIN = 1e-4;
const Y_MAX = 1e6;
const BOX_LEVEL = 2.45e-4;

function shiftPadding(px: number): number[] {
  return px >= 0 ? [0, 0, 0, 2 * px] : [0, -2 * px, 0, 0];
}

function buildOption(): any {
  const bold = { fontFamily: FONT, fontWeight: 'bold' as const, color: '#000' };

  const tickData: number[][] = [];
  for (let e = -4; e <= 6; e++) {
    tickData.push([X_MIN, Math.pow(10, e), 1]);
    if (e < 6) for (let m = 2; m <= 9; m++) tickData.push([X_MIN, m * Math.pow(10, e), 0]);
  }

  const lineSeries = channels.map((pts, i) => ({
    type: 'line',
    name: channelNames[i],
    data: pts.map(([d, l]) => [d, Math.pow(10, l)]),
    showSymbol: false,
    symbol: 'none',
    clip: true,
    silent: true,
    lineStyle: { color: channelColors[i], width: 2.7, join: 'round' },
    itemStyle: { color: channelColors[i] },
    z: 3 + i,
    endLabel: {
      show: true,
      formatter: channelNames[i],
      distance: 7,
      offset: [0, endLabelDy[i]],
      fontSize: 19,
      ...bold,
    },
  }));

  const xAxisCommon = {
    type: 'value',
    min: X_MIN,
    max: X_MAX,
    interval: 1,
    axisLine: { show: true, onZero: false, lineStyle: { color: '#000', width: 3 } },
    axisTick: { show: true, inside: true, length: 10, lineStyle: { color: '#000', width: 2 } },
    minorTick: { show: true, splitNumber: 2, length: 5, lineStyle: { color: '#000', width: 2 } },
    splitLine: { show: false },
    minorSplitLine: { show: false },
  };

  return {
    animation: false,
    backgroundColor: '#ffffff',
    grid: { left: 106, right: 98, top: 52, bottom: 69, containLabel: false },
    xAxis: [
      {
        ...xAxisCommon,
        position: 'bottom',
        axisLabel: {
          show: true,
          fontSize: 21,
          ...bold,
          margin: 6,
          padding: [0, 0, 0, 55],
          formatter: (v: number) => {
            const i = dayTickDays.indexOf(Math.round(v * 1000) / 1000);
            return i >= 0 ? dayTickLabels[i] : '';
          },
        },
        name: 'Day of 2003',
        nameLocation: 'middle',
        nameGap: 47,
        nameTextStyle: { fontSize: 20, ...bold },
      },
      {
        ...xAxisCommon,
        position: 'top',
        axisLabel: { show: false },
      },
    ],
    yAxis: [
      {
        type: 'log',
        logBase: 10,
        min: Y_MIN,
        max: Y_MAX,
        interval: 1,
        position: 'left',
        axisLine: { show: true, lineStyle: { color: '#000', width: 3 } },
        axisTick: { show: false },
        splitLine: { show: false },
        axisLabel: {
          margin: 14,
          formatter: (v: number) => {
            const e = Math.round(Math.log10(v));
            return e % 2 === 0 ? `{b|10}{s|${e}}` : '';
          },
          rich: {
            b: { fontSize: 20, lineHeight: 22, ...bold },
            s: { fontSize: 13, lineHeight: 13, verticalAlign: 'top', ...bold },
          },
        },
        name: 'Protons/(cm{sup|2}sr-sec-MeV)',
        nameLocation: 'middle',
        nameRotate: 90,
        nameGap: 76,
        nameTextStyle: {
          fontSize: 19,
          ...bold,
          padding: [0, 0, 0, 20],
          rich: { sup: { fontSize: 12, lineHeight: 12, verticalAlign: 'top', ...bold } },
        },
      },
      {
        type: 'log',
        logBase: 10,
        min: Y_MIN,
        max: Y_MAX,
        position: 'right',
        axisLine: { show: true, lineStyle: { color: '#000', width: 3 } },
        axisTick: { show: false },
        splitLine: { show: false },
        axisLabel: { show: false },
      },
    ],
    series: [
      {
        type: 'line',
        data: [],
        silent: true,
        markLine: {
          silent: true,
          z: 1,
          symbol: ['none', 'none'],
          lineStyle: { color: '#ee1111', type: [4, 6], width: 3 },
          label: { show: true, position: 'end', fontSize: 18, ...bold },
          data: flareDays.map((d, i) => ({
            xAxis: d,
            label: {
              formatter: flareNames[i],
              distance: flareRaised[i] ? 23 : 3,
              padding: shiftPadding(flareShiftPx[i]),
            },
          })),
        },
      },
      {
        type: 'line',
        data: [],
        silent: true,
        markLine: {
          silent: true,
          z: 1,
          symbol: ['none', 'none'],
          lineStyle: { color: '#111', type: [12, 8], width: 2 },
          label: { show: true, position: 'end', fontSize: 16, ...bold, distance: -27, padding: shiftPadding(7), formatter: 's' },
          data: shockDays.map((d) => ({ xAxis: d })),
        },
      },
      ...lineSeries,
      {
        type: 'custom',
        coordinateSystem: 'cartesian2d',
        silent: true,
        z: 20,
        clip: false,
        data: tickData,
        encode: { x: 0, y: 1 },
        renderItem: (_params: any, api: any) => {
          const v = api.value(1);
          const major = api.value(2) === 1;
          const pl = api.coord([X_MIN, v]);
          const pr = api.coord([X_MAX, v]);
          const len = major ? 10 : 5;
          return {
            type: 'group',
            children: [
              { type: 'line', shape: { x1: pl[0], y1: pl[1], x2: pl[0] + len, y2: pl[1] }, style: { stroke: '#000', lineWidth: 2 } },
              { type: 'line', shape: { x1: pr[0], y1: pr[1], x2: pr[0] - len, y2: pr[1] }, style: { stroke: '#000', lineWidth: 2 } },
            ],
          };
        },
      },
      {
        type: 'custom',
        coordinateSystem: 'cartesian2d',
        silent: true,
        z: 30,
        clip: false,
        data: eventDays.map((d) => [d, BOX_LEVEL]),
        encode: { x: 0, y: 1 },
        renderItem: (params: any, api: any) => {
          const p = api.coord([api.value(0), api.value(1)]);
          const w = 23;
          const h = 19;
          return {
            type: 'group',
            children: [
              {
                type: 'rect',
                shape: { x: p[0] - w / 2, y: p[1] - h / 2, width: w, height: h },
                style: { fill: '#fff', stroke: '#000', lineWidth: 2 },
              },
              {
                type: 'text',
                x: p[0],
                y: p[1] + 1,
                style: {
                  text: eventNames[params.dataIndex],
                  fill: '#000',
                  font: `bold 17px ${FONT}`,
                  align: 'center',
                  verticalAlign: 'middle',
                },
              },
            ],
          };
        },
      },
    ],
  };
}

export default function App() {
  const ref = useRef<HTMLDivElement>(null);
  useEffect(() => {
    document.body.style.margin = '0';
    if (!ref.current) return;
    const chart = echarts.init(ref.current, null, { renderer: 'svg' });
    chart.setOption(buildOption());
    return () => chart.dispose();
  }, []);
  return <div ref={ref} style={{ width: 920, height: 631 }} />;
}
